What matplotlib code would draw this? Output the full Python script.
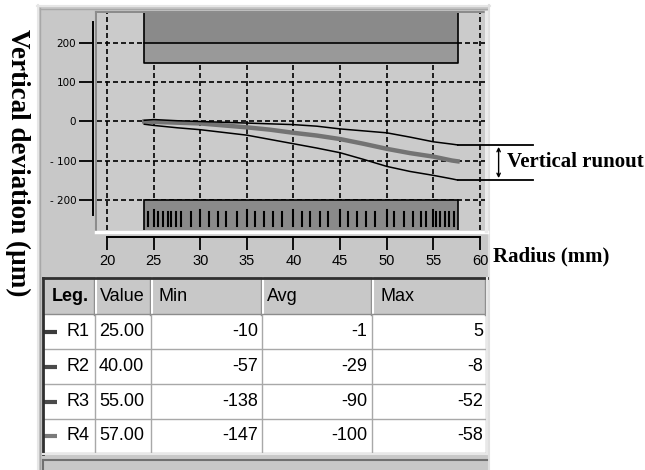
import matplotlib.pyplot as plt
from matplotlib.patches import Rectangle

W, H = 645, 470

# radii listed in the legend table, deviations in µm
radius_labels = ["R1", "R2", "R3", "R4"]
radius_values = [25.00, 40.00, 55.00, 57.00]
min_dev = [-10, -57, -138, -147]
avg_dev = [-1, -29, -90, -100]
max_dev = [5, -8, -52, -58]
legend_colors = ["#3c3c3c", "#4a4a4a", "#4a4a4a", "#7a7a7a"]

# vertical deviation profile across the disc (mm, µm)
profile_r = [24.0, 25.0, 27.5, 30.0, 32.5, 35.0, 37.5, 40.0, 42.5, 45.0, 47.5, 50.0, 52.5, 55.0, 57.0, 57.6]
profile_max = [3, 5, 2, 0, -2, -4, -6, -8, -12, -19, -24, -29, -40, -52, -58, -60]
profile_avg = [0, -1, -3, -5, -10, -15, -21, -29, -36, -45, -57, -70, -81, -90, -100, -102]
profile_min = [-7, -10, -16, -21, -28, -35, -46, -57, -68, -80, -97, -115, -128, -138, -147, -150]

# limit zones and track marks
zone_start, zone_end = 24.0, 57.6
limit_top, limit_bottom = 200, 150
track_top = -200
track_marks = [24.4, 25.0, 25.5, 26.0, 26.5, 26.9, 27.4, 27.9, 29.0, 30.0, 30.9, 31.9,
               32.8, 33.9, 35.0, 35.9, 36.8, 37.8, 38.8, 40.0, 40.9, 41.8, 42.8, 43.7,
               45.0, 45.8, 46.8, 47.8, 48.7, 50.0, 50.8, 51.8, 52.8, 53.7, 54.2, 55.0,
               55.3, 55.7, 56.2, 56.7, 57.2]

x_ticks = [20, 25, 30, 35, 40, 45, 50, 55, 60]
y_ticks = [-200, -100, 0, 100, 200]
y_ticklabels = ["- 200", "- 100", "0", "100", "200"]

serif = ["Liberation Serif", "DejaVu Serif"]
sans = ["Liberation Sans", "DejaVu Sans"]
table_fs = 13

fig = plt.figure(figsize=(W / 100, H / 100), dpi=100)
fig.patch.set_facecolor("white")

# background panel in pixel coordinates
bg = fig.add_axes([0, 0, 1, 1], zorder=0)
bg.set_xlim(0, W)
bg.set_ylim(H, 0)
bg.axis("off")

bg.add_patch(Rectangle((37, 5), 453, 470, facecolor="#c8c8c8", edgecolor="none"))
bg.plot([37.5, 37.5], [5, 470], color="#e6e6e6", lw=1.5)
bg.plot([37, 490], [5.5, 5.5], color="#e6e6e6", lw=1.5)
bg.plot([40, 40], [8, 470], color="#a8a8a8", lw=1)
bg.plot([40, 488], [8.5, 8.5], color="#a8a8a8", lw=1)
bg.plot([489, 489], [5, 470], color="#e0e0e0", lw=1.5)
# sunken border of the plot area
bg.plot([96, 96], [12, 231], color="#8c8c8c", lw=1.5)
bg.plot([96, 486], [12, 12], color="#8c8c8c", lw=1.5)
bg.plot([96, 487], [231.5, 231.5], color="white", lw=2.5)
bg.plot([486, 486], [12, 231], color="#ececec", lw=2.5)

# table
col_edges = [43, 95, 151, 262, 372, 486]
row_edges = [278, 315, 349, 384, 419, 453]
headers = ["Leg.", "Value", "Min", "Avg", "Max"]
head_pad = [9, 5, 8, 5, 9]

for i in range(5):
    x0, x1 = col_edges[i], col_edges[i + 1]
    y0, y1 = row_edges[0], row_edges[1]
    bg.add_patch(Rectangle((x0, y0), x1 - x0, y1 - y0, facecolor="#c8c8c8", edgecolor="none"))
    bg.plot([x0 + 1, x0 + 1], [y0, y1], color="white", lw=1.5)
    bg.plot([x1 - 1, x1 - 1], [y0, y1], color="#8c8c8c", lw=1)
    bg.plot([x0, x1], [y1 - 1, y1 - 1], color="#8c8c8c", lw=1)
    bg.text(x0 + head_pad[i], (y0 + y1) / 2, headers[i], ha="left", va="center",
            family=sans, fontsize=table_fs, fontweight="bold" if i == 0 else "normal")

bg.add_patch(Rectangle((col_edges[0], row_edges[1]), col_edges[-1] - col_edges[0],
                       row_edges[-1] - row_edges[1], facecolor="white", edgecolor="none"))
for y in row_edges[2:]:
    bg.plot([col_edges[0], col_edges[-1]], [y, y], color="#a8a8a8", lw=1)
for x in col_edges[1:]:
    bg.plot([x, x], [row_edges[1], row_edges[-1]], color="#a8a8a8", lw=1)

for k in range(4):
    yc = (row_edges[k + 1] + row_edges[k + 2]) / 2
    bg.plot([44, 57], [yc, yc], color=legend_colors[k], lw=3, solid_capstyle="butt")
    bg.text(66, yc, radius_labels[k], ha="left", va="center", family=sans, fontsize=table_fs)
    bg.text(col_edges[1] + 4, yc, f"{radius_values[k]:.2f}", ha="left", va="center",
            family=sans, fontsize=table_fs)
    bg.text(col_edges[3] - 4, yc, f"{min_dev[k]}", ha="right", va="center",
            family=sans, fontsize=table_fs)
    bg.text(col_edges[4] - 5, yc, f"{avg_dev[k]}", ha="right", va="center",
            family=sans, fontsize=table_fs)
    bg.text(col_edges[5] - 3, yc, f"{max_dev[k]}", ha="right", va="center",
            family=sans, fontsize=table_fs)

# table frame
bg.plot([43, 43], [278, 454], color="#303030", lw=2)
bg.plot([43, 487], [278, 278], color="#303030", lw=2)
bg.plot([487, 487], [278, 454], color="#e8e8e8", lw=1.5)
bg.plot([43, 487], [454, 454], color="#e8e8e8", lw=1.5)
bg.plot([43, 487], [460, 460], color="#707070", lw=1.5)
bg.plot([43, 43], [460, 470], color="#707070", lw=1.5)

# outer axis titles
bg.text(18, 163, "Vertical deviation (µm)", rotation=270, ha="center", va="center",
        family=serif, fontweight="bold", fontsize=19.5)
bg.text(493, 256, "Radius (mm)", ha="left", va="center",
        family=serif, fontweight="bold", fontsize=15)

# chart
ax = fig.add_axes([97 / W, 1 - 230 / H, 388 / W, 217 / H], zorder=1)
ax.set_facecolor("#cbcbcb")
ax.set_xlim(18.93, 60.54)
ax.set_ylim(-278, 278)

ax.add_patch(Rectangle((zone_start, limit_top), zone_end - zone_start, 200,
                       facecolor="#8a8a8a", edgecolor="none", zorder=1))
ax.add_patch(Rectangle((zone_start, limit_bottom), zone_end - zone_start, limit_top - limit_bottom,
                       facecolor="#999999", edgecolor="none", zorder=1))
ax.plot([zone_start, zone_start, zone_end, zone_end], [300, limit_bottom, limit_bottom, 300],
        color="black", lw=1.2, zorder=1.6)
ax.plot([zone_start, zone_end], [limit_top, limit_top], color="black", lw=1.2, zorder=1.6)

ax.add_patch(Rectangle((zone_start, -300), zone_end - zone_start, 300 + track_top,
                       facecolor="#8a8a8a", edgecolor="black", lw=1.2, zorder=1.8))
for m in track_marks:
    top = -226 if m % 5 == 0 else -231
    ax.plot([m, m], [top, -268], color="black", lw=1.5, zorder=1.9)

ax.grid(True, color="black", linestyle=(0, (3, 1.8)), linewidth=1.2)
ax.set_axisbelow(True)

ax.plot(profile_r, profile_avg, color="#737373", lw=3.2, zorder=3)
ax.plot(profile_r, profile_max, color="black", lw=1.1, zorder=3.5)
ax.plot(profile_r, profile_min, color="black", lw=1.1, zorder=3.5)

# runout annotation
x_end = profile_r[-1]
ax.plot([x_end, 65.7], [profile_max[-1], profile_max[-1]], color="black", lw=1.3, clip_on=False, zorder=4)
ax.plot([x_end, 65.7], [profile_min[-1], profile_min[-1]], color="black", lw=1.3, clip_on=False, zorder=4)
ax.annotate("", xy=(62.0, profile_min[-1] + 5), xytext=(62.0, profile_max[-1] - 5),
            arrowprops=dict(arrowstyle="<->", lw=1, mutation_scale=6, shrinkA=0, shrinkB=0),
            annotation_clip=False)
ax.text(62.9, (profile_max[-1] + profile_min[-1]) / 2, "Vertical runout", ha="left", va="center",
        family=serif, fontweight="bold", fontsize=15)

for s in ["top", "right"]:
    ax.spines[s].set_visible(False)
ax.spines["left"].set_position(("outward", 2.9))
ax.spines["left"].set_bounds(-240, 256)
ax.spines["bottom"].set_position(("outward", 5))
ax.spines["bottom"].set_bounds(20, 60)
for s in ["left", "bottom"]:
    ax.spines[s].set_linewidth(1.4)

ax.set_xticks(x_ticks)
ax.set_xticklabels([str(v) for v in x_ticks], family=sans)
ax.set_yticks(y_ticks)
ax.set_yticklabels(y_ticklabels, family="DejaVu Sans")
ax.tick_params(axis="y", direction="out", length=10, width=1.3, labelsize=7.5, pad=2)
ax.tick_params(axis="x", direction="out", length=9, width=1.3, labelsize=10.5, pad=3.5)

fig.savefig("out.png", dpi=100)
